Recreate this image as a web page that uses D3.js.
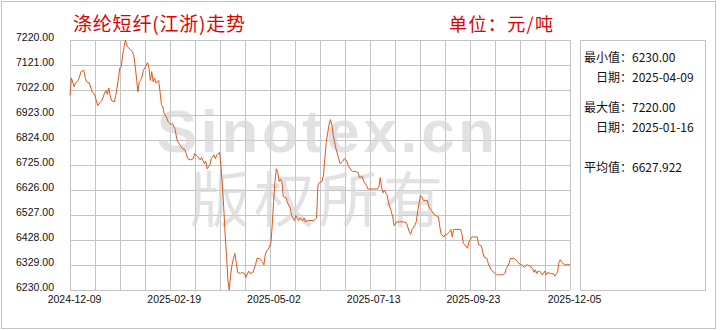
<!DOCTYPE html>
<html>
<head>
<meta charset="utf-8">
<script src="https://cdn.jsdelivr.net/npm/d3@7"></script>
<style>
  body { margin: 0; background: #fff; }
  svg { display: block; }
</style>
</head>
<body>
<svg></svg>
<script>
const svg_width = 720;
const svg_height = 330;
const plot = { left: 70, right: 570, top: 40, bottom: 290 };

const dates = [
  "2024-12-09","2024-12-10","2024-12-12","2024-12-13","2024-12-15","2024-12-17","2024-12-19","2024-12-20","2024-12-21","2024-12-23",
  "2024-12-25","2024-12-26","2024-12-27","2024-12-29","2024-12-31","2025-01-01","2025-01-03","2025-01-04","2025-01-05","2025-01-06",
  "2025-01-07","2025-01-08","2025-01-10","2025-01-11","2025-01-12","2025-01-13","2025-01-14","2025-01-15","2025-01-16","2025-01-17",
  "2025-01-18","2025-01-19","2025-01-20","2025-01-22","2025-01-23","2025-01-24","2025-01-25","2025-01-26","2025-01-27","2025-01-28",
  "2025-01-29","2025-01-30","2025-01-31","2025-02-01","2025-02-02","2025-02-03","2025-02-04","2025-02-05","2025-02-06","2025-02-07",
  "2025-02-08","2025-02-09","2025-02-10","2025-02-11","2025-02-12","2025-02-13","2025-02-14","2025-02-15","2025-02-17","2025-02-18",
  "2025-02-20","2025-02-21","2025-02-23","2025-02-24","2025-02-25","2025-02-27","2025-02-28","2025-03-02","2025-03-04","2025-03-06",
  "2025-03-08","2025-03-09","2025-03-11","2025-03-13","2025-03-14","2025-03-16","2025-03-17","2025-03-18","2025-03-20","2025-03-21",
  "2025-03-23","2025-03-24","2025-03-25","2025-03-27","2025-03-28","2025-03-29","2025-03-30","2025-03-31","2025-04-01","2025-04-02",
  "2025-04-03","2025-04-04","2025-04-05","2025-04-06","2025-04-07","2025-04-08","2025-04-09","2025-04-11","2025-04-12","2025-04-14",
  "2025-04-15","2025-04-17","2025-04-18","2025-04-20","2025-04-22","2025-04-23","2025-04-25","2025-04-27","2025-04-28","2025-04-29",
  "2025-04-30","2025-05-01","2025-05-03","2025-05-04","2025-05-05","2025-05-06","2025-05-07","2025-05-08","2025-05-09","2025-05-10",
  "2025-05-11","2025-05-12","2025-05-14","2025-05-15","2025-05-17","2025-05-18","2025-05-20","2025-05-21","2025-05-23","2025-05-24",
  "2025-05-26","2025-05-27","2025-05-28","2025-05-30","2025-06-01","2025-06-03","2025-06-05","2025-06-06","2025-06-07","2025-06-09",
  "2025-06-10","2025-06-11","2025-06-12","2025-06-14","2025-06-15","2025-06-16","2025-06-17","2025-06-19","2025-06-20","2025-06-21",
  "2025-06-22","2025-06-24","2025-06-25","2025-06-27","2025-06-28","2025-06-30","2025-07-01","2025-07-03","2025-07-05","2025-07-06",
  "2025-07-08","2025-07-09","2025-07-11","2025-07-12","2025-07-15","2025-07-17","2025-07-19","2025-07-20","2025-07-21","2025-07-22",
  "2025-07-23","2025-07-24","2025-07-26","2025-07-27","2025-07-29","2025-07-30","2025-07-31","2025-08-02","2025-08-04","2025-08-07",
  "2025-08-09","2025-08-11","2025-08-12","2025-08-13","2025-08-15","2025-08-16","2025-08-17","2025-08-19","2025-08-20","2025-08-21",
  "2025-08-23","2025-08-24","2025-08-25","2025-08-27","2025-08-28","2025-08-30","2025-09-01","2025-09-02","2025-09-03","2025-09-05",
  "2025-09-06","2025-09-07","2025-09-09","2025-09-10","2025-09-11","2025-09-12","2025-09-14","2025-09-17","2025-09-18","2025-09-19",
  "2025-09-20","2025-09-22","2025-09-23","2025-09-25","2025-09-26","2025-09-29","2025-09-30","2025-10-02","2025-10-03","2025-10-04",
  "2025-10-06","2025-10-07","2025-10-09","2025-10-11","2025-10-13","2025-10-15","2025-10-17","2025-10-19","2025-10-20","2025-10-22",
  "2025-10-23","2025-10-25","2025-10-27","2025-10-29","2025-10-31","2025-11-02","2025-11-03","2025-11-04","2025-11-06","2025-11-08",
  "2025-11-09","2025-11-10","2025-11-11","2025-11-12","2025-11-14","2025-11-15","2025-11-17","2025-11-18","2025-11-19","2025-11-21",
  "2025-11-23","2025-11-24","2025-11-26","2025-11-27","2025-11-28","2025-11-29","2025-12-01","2025-12-03","2025-12-05"
];

const prices = [
  7000,7070,7035,7050,7060,7095,7100,7070,7055,7050,
  7015,7010,7000,6960,6975,6980,7010,7020,7005,7030,
  7000,6980,6975,7000,7030,7070,7110,7115,7160,7190,
  7220,7200,7190,7180,7175,7160,7120,7070,7015,7055,
  7060,7075,7100,7110,7120,7130,7110,7060,7095,7055,
  7070,7050,7055,7060,7015,6965,6955,6930,6910,6895,
  6885,6890,6865,6830,6815,6800,6790,6785,6750,6745,
  6750,6770,6760,6745,6755,6730,6740,6710,6725,6750,
  6765,6750,6765,6775,6720,6645,6555,6450,6370,6270,
  6230,6290,6330,6355,6375,6340,6300,6295,6300,6295,
  6280,6305,6295,6300,6330,6355,6355,6340,6330,6370,
  6385,6390,6415,6485,6580,6660,6710,6695,6660,6670,
  6655,6600,6595,6575,6555,6525,6505,6525,6505,6515,
  6505,6515,6500,6505,6505,6505,6515,6645,6655,6660,
  6685,6750,6815,6885,6905,6885,6845,6790,6770,6750,
  6730,6740,6750,6740,6720,6705,6700,6700,6695,6675,
  6680,6660,6645,6630,6630,6630,6630,6640,6675,6635,
  6615,6625,6605,6575,6540,6520,6485,6500,6500,6500,
  6495,6460,6450,6470,6485,6500,6540,6605,6600,6585,
  6585,6585,6560,6545,6535,6525,6520,6480,6450,6440,
  6450,6450,6460,6470,6440,6470,6470,6470,6450,6415,
  6410,6395,6420,6440,6440,6440,6410,6405,6380,6360,
  6355,6335,6310,6300,6290,6290,6290,6295,6315,6335,
  6355,6355,6350,6335,6330,6320,6325,6330,6325,6315,
  6300,6310,6295,6305,6300,6290,6305,6290,6300,6295,
  6295,6285,6300,6340,6350,6340,6330,6330,6330
];

const xTickLabels = ["2024-12-09", "2025-02-19", "2025-05-02", "2025-07-13", "2025-09-23", "2025-12-05"];
const yTicks = [6230, 6329, 6428, 6527, 6626, 6725, 6824, 6923, 7022, 7121, 7220];

const titleText = "涤纶短纤(江浙)走势";
const unitText = "单位：元/吨";
const watermarkLatin = "Sinotex.cn";
const watermarkCjk = "版权所有";

const statNames = ["最小值：", "日期：", "最大值：", "日期：", "平均值："];
const statValues = ["6230.00", "2025-04-09", "7220.00", "2025-01-16", "6627.922"];

const parse = d3.timeParse("%Y-%m-%d");
const series = dates.map((d, i) => ({ date: parse(d), value: prices[i] }));

const svg = d3.select("svg")
    .attr("width", svg_width)
    .attr("height", svg_height);

// outer frame
svg.append("rect")
    .attr("x", 1.5).attr("y", 1.5)
    .attr("width", 714).attr("height", 327)
    .attr("fill", "#fff")
    .attr("stroke", "#c4c4c4");

const xScale = d3.scaleTime()
    .domain([parse(xTickLabels[0]), parse(xTickLabels[xTickLabels.length - 1])])
    .range([plot.left, plot.right]);

const yScale = d3.scaleLinear()
    .domain([yTicks[0], yTicks[yTicks.length - 1]])
    .range([plot.bottom, plot.top]);

// grid: 20 columns, rows on y ticks
const gridCols = d3.scaleLinear().domain([0, 20]).range([plot.left, plot.right]);
const grid = svg.append("g")
    .attr("stroke", "#c4c4c4")
    .attr("stroke-width", 1)
    .attr("shape-rendering", "crispEdges");

grid.selectAll("line.v")
    .data(d3.range(21))
    .enter()
    .append("line")
    .attr("x1", d => gridCols(d) + 0.5)
    .attr("x2", d => gridCols(d) + 0.5)
    .attr("y1", plot.top)
    .attr("y2", plot.bottom);

grid.selectAll("line.h")
    .data(yTicks)
    .enter()
    .append("line")
    .attr("x1", plot.left)
    .attr("x2", plot.right)
    .attr("y1", d => Math.round(yScale(d)) + 0.5)
    .attr("y2", d => Math.round(yScale(d)) + 0.5);

// watermark
const wm = svg.append("g")
    .attr("fill", "#d6d6d6")
    .attr("opacity", 0.7);

wm.append("text")
    .attr("x", 157)
    .attr("y", 152)
    .attr("font-family", "'Liberation Sans', Arial, sans-serif")
    .attr("font-weight", "bold")
    .attr("font-size", 60)
    .attr("textLength", 338)
    .attr("lengthAdjust", "spacing")
    .text(watermarkLatin);

wm.append("text")
    .attr("x", 190)
    .attr("y", 222)
    .attr("font-family", "'Noto Sans CJK SC', sans-serif")
    .attr("font-size", 60)
    .attr("textLength", 253)
    .attr("lengthAdjust", "spacing")
    .text(watermarkCjk);

// axes
const yAxis = d3.axisLeft(yScale)
    .tickValues(yTicks)
    .tickSize(0)
    .tickPadding(16)
    .tickFormat(d3.format(".2f"));

svg.append("g")
    .attr("transform", `translate(${plot.left}, 0)`)
    .call(yAxis)
    .call(g => g.select(".domain").remove())
    .selectAll("text")
    .attr("dy", "0.02em")
    .attr("fill", "#111")
    .attr("font-family", "'Liberation Sans', Arial, sans-serif")
    .attr("font-size", 10.5);

const xAxis = d3.axisBottom(xScale)
    .tickValues(xTickLabels.map(parse))
    .tickSize(0)
    .tickPadding(6)
    .tickFormat(d3.timeFormat("%Y-%m-%d"));

svg.append("g")
    .attr("transform", `translate(0, ${plot.bottom})`)
    .call(xAxis)
    .call(g => g.select(".domain").remove())
    .selectAll("text")
    .attr("dx", 4)
    .attr("fill", "#111")
    .attr("font-family", "'Liberation Sans', Arial, sans-serif")
    .attr("font-size", 10.5);

// price line
const line = d3.line()
    .x(d => xScale(d.date))
    .y(d => yScale(d.value));

svg.append("path")
    .datum(series)
    .attr("fill", "none")
    .attr("stroke", "#e0561c")
    .attr("stroke-width", 1)
    .attr("stroke-linejoin", "round")
    .attr("d", line);

// title and unit
svg.append("text")
    .attr("x", 73)
    .attr("y", 31)
    .attr("fill", "#e00000")
    .attr("font-family", "'Noto Sans CJK SC', sans-serif")
    .attr("font-size", 19)
    .attr("textLength", 172)
    .attr("lengthAdjust", "spacing")
    .text(titleText);

svg.append("text")
    .attr("x", 449)
    .attr("y", 31)
    .attr("fill", "#e00000")
    .attr("font-family", "'Noto Sans CJK SC', sans-serif")
    .attr("font-size", 18)
    .attr("textLength", 104)
    .attr("lengthAdjust", "spacing")
    .text(unitText);

// stats panel
svg.append("rect")
    .attr("x", 580.5).attr("y", 40.5)
    .attr("width", 125).attr("height", 250)
    .attr("fill", "none")
    .attr("stroke", "#c4c4c4");

const statY = [56, 76, 106, 126, 166];
const statX = [584, 596, 584, 596, 584];

const stats = svg.append("g")
    .attr("font-family", "'Noto Sans CJK SC', sans-serif")
    .attr("font-size", 12)
    .attr("fill", "#111");

statNames.forEach((name, i) => {
    const t = stats.append("text")
        .attr("x", statX[i])
        .attr("y", statY[i])
        .attr("dominant-baseline", "central");
    t.append("tspan").text(name);
    t.append("tspan").text(statValues[i]);
});
</script>
</body>
</html>
